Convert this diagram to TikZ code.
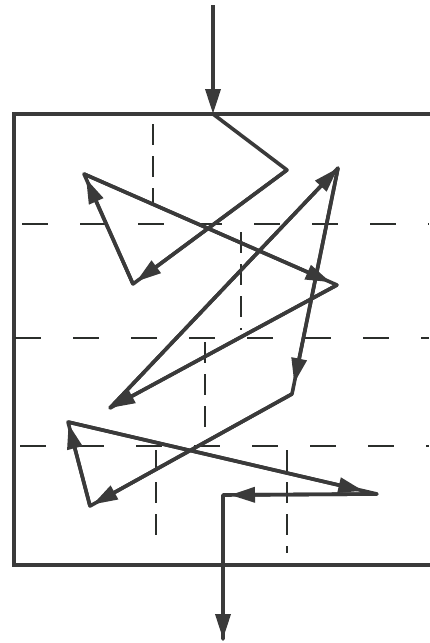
\documentclass[tikz,border=0pt]{standalone}
\usetikzlibrary{arrows.meta}
\definecolor{ink}{HTML}{3A3A3A}
\definecolor{dashink}{HTML}{2B2E2B}
\begin{document}
\begin{tikzpicture}[x=1pt,y=-1pt,
 flow/.style={draw=ink, line width=3.6pt, line join=round, line cap=round},
 tip/.style={-{Triangle[length=25pt,width=15pt]}, draw=ink, fill=ink, line width=3.6pt},
 wall/.style={draw=ink, line width=3.4pt},
 hdash/.style={draw=dashink, line width=1.9pt, dash pattern=on 26pt off 32pt},
 vdash/.style={draw=dashink, line width=1.9pt, dash pattern=on 21pt off 11pt}]
\useasboundingbox (0,0) rectangle (429,643);
% tank walls
\draw[wall] (440,114) -- (14,114) -- (14,565) -- (440,565);
% baffle grid
\draw[hdash] (22,224) -- (429,224);
\draw[hdash] (15,338) -- (429,338);
\draw[hdash] (20,446) -- (429,446);
\draw[vdash] (153,124) -- (153,205);
\draw[vdash] (241,232) -- (241,330);
\draw[vdash] (205,342) -- (205,435);
\draw[vdash] (156,450) -- (156,546);
\draw[vdash] (287,450) -- (287,553);
% flow path vertices
\coordinate (in) at (213,5);
\coordinate (p0) at (213,114);
\coordinate (p1) at (287,170);
\coordinate (p2) at (133,284);
\coordinate (p3) at (84,174);
\coordinate (p4) at (337,285);
\coordinate (p5) at (110,408);
\coordinate (p6) at (338,168);
\coordinate (p7) at (292,394);
\coordinate (p8) at (90,506);
\coordinate (p9) at (68,422);
\coordinate (p10) at (377,494);
\coordinate (p11) at (223,495);
\coordinate (out) at (223,639);
\draw[flow] (p0) -- (p1) -- (p2) -- (p3) -- (p4) -- (p5) -- (p6) -- (p7) -- (p8) -- (p9) -- (p10) -- (p11) -- (out);
% arrowheads
\draw[tip] (in) -- (p0);
\draw[tip, shorten >=4pt] (p1) -- (p2);
\draw[tip, shorten >=5pt] (p2) -- (p3);
\draw[tip, shorten >=7pt] (p3) -- (p4);
\draw[tip] (p4) -- (p5);
\draw[tip] (p5) -- (p6);
\draw[tip, shorten >=11pt] (p6) -- (p7);
\draw[tip, shorten >=3pt] (p7) -- (p8);
\draw[tip, shorten >=2pt] (p8) -- (p9);
\draw[tip, shorten >=14pt] (p9) -- (p10);
\draw[tip, shorten >=7pt] (p10) -- (p11);
\draw[tip] (p11) -- (out);
\end{tikzpicture}
\end{document}
